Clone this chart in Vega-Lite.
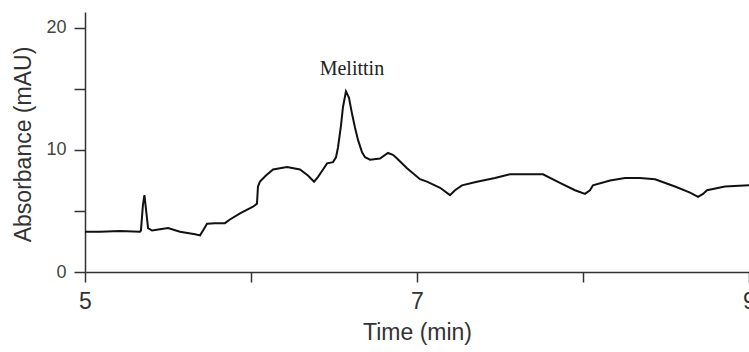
{
  "$schema": "https://vega.github.io/schema/vega-lite/v6.json",
  "autosize": "none",
  "padding": {"left": 85, "top": 12, "right": 0, "bottom": 80},
  "width": 664,
  "height": 260,
  "background": "white",
  "config": {"view": {"stroke": null}, "axis": {"grid": false}},
  "datasets": {
    "trace": [
      {"t": 5.000, "a": 3.3}, {"t": 5.090, "a": 3.3}, {"t": 5.211, "a": 3.35}, {"t": 5.331, "a": 3.3},
      {"t": 5.337, "a": 3.4}, {"t": 5.349, "a": 5.5}, {"t": 5.358, "a": 6.3}, {"t": 5.367, "a": 5.2},
      {"t": 5.380, "a": 3.6}, {"t": 5.404, "a": 3.4}, {"t": 5.452, "a": 3.5}, {"t": 5.500, "a": 3.6},
      {"t": 5.572, "a": 3.3}, {"t": 5.663, "a": 3.1}, {"t": 5.693, "a": 3.0}, {"t": 5.711, "a": 3.4},
      {"t": 5.735, "a": 3.95}, {"t": 5.783, "a": 4.0}, {"t": 5.843, "a": 4.0}, {"t": 5.873, "a": 4.3},
      {"t": 5.934, "a": 4.8}, {"t": 6.012, "a": 5.35}, {"t": 6.036, "a": 5.6}, {"t": 6.042, "a": 7.0},
      {"t": 6.054, "a": 7.4}, {"t": 6.090, "a": 7.9}, {"t": 6.133, "a": 8.4}, {"t": 6.217, "a": 8.6},
      {"t": 6.295, "a": 8.4}, {"t": 6.343, "a": 7.9}, {"t": 6.380, "a": 7.4}, {"t": 6.404, "a": 7.8},
      {"t": 6.434, "a": 8.4}, {"t": 6.458, "a": 8.9}, {"t": 6.494, "a": 9.0}, {"t": 6.512, "a": 9.4},
      {"t": 6.524, "a": 10.2}, {"t": 6.542, "a": 12.0}, {"t": 6.554, "a": 13.5}, {"t": 6.572, "a": 14.8},
      {"t": 6.590, "a": 14.3}, {"t": 6.608, "a": 13.0}, {"t": 6.627, "a": 11.8}, {"t": 6.645, "a": 10.8},
      {"t": 6.669, "a": 9.8}, {"t": 6.687, "a": 9.4}, {"t": 6.717, "a": 9.2}, {"t": 6.777, "a": 9.3},
      {"t": 6.825, "a": 9.75}, {"t": 6.855, "a": 9.6}, {"t": 6.880, "a": 9.3}, {"t": 6.940, "a": 8.5},
      {"t": 7.018, "a": 7.6}, {"t": 7.060, "a": 7.4}, {"t": 7.139, "a": 6.9}, {"t": 7.199, "a": 6.3},
      {"t": 7.229, "a": 6.7}, {"t": 7.271, "a": 7.1}, {"t": 7.361, "a": 7.4}, {"t": 7.470, "a": 7.7},
      {"t": 7.560, "a": 8.0}, {"t": 7.651, "a": 8.0}, {"t": 7.759, "a": 8.0}, {"t": 7.861, "a": 7.3},
      {"t": 7.952, "a": 6.7}, {"t": 8.012, "a": 6.4}, {"t": 8.042, "a": 6.7}, {"t": 8.060, "a": 7.1},
      {"t": 8.163, "a": 7.5}, {"t": 8.253, "a": 7.7}, {"t": 8.343, "a": 7.7}, {"t": 8.434, "a": 7.6},
      {"t": 8.554, "a": 7.0}, {"t": 8.645, "a": 6.5}, {"t": 8.693, "a": 6.15}, {"t": 8.723, "a": 6.4},
      {"t": 8.747, "a": 6.7}, {"t": 8.855, "a": 7.0}, {"t": 9.000, "a": 7.1}
    ],
    "labels": [{"t": 6.608, "a": 16.6, "name": "Melittin"}]
  },
  "layer": [
    {
      "data": {"name": "trace"},
      "mark": {"type": "line", "color": "#111", "strokeWidth": 2, "clip": true},
      "encoding": {
        "x": {
          "field": "t", "type": "quantitative",
          "scale": {"domain": [5, 9], "nice": false, "zero": false},
          "axis": {
            "title": "Time (min)", "values": [5, 6, 7, 8, 9], "format": "d",
            "labelExpr": "datum.value % 2 == 1 ? datum.label : ''",
            "labelFont": "Liberation Sans", "labelFontSize": 23, "labelColor": "#333",
            "labelPadding": 8, "tickSize": 10, "tickColor": "#333", "tickWidth": 1.5,
            "domainColor": "#333", "domainWidth": 1.5,
            "titleFont": "Liberation Sans", "titleFontSize": 23, "titleFontWeight": "normal",
            "titleColor": "#333", "titlePadding": 8, "labelFlush": false, "labelOverlap": false
          }
        },
        "y": {
          "field": "a", "type": "quantitative",
          "scale": {"domain": [0, 21.3], "nice": false},
          "axis": {
            "title": "Absorbance (mAU)", "values": [0, 5, 10, 15, 20],
            "labelExpr": "datum.value % 10 == 0 ? datum.label : ''",
            "labelFont": "Liberation Sans", "labelFontSize": 18, "labelColor": "#444",
            "labelPadding": 8, "tickSize": 11, "tickColor": "#333", "tickWidth": 1.5,
            "domainColor": "#333", "domainWidth": 1.5,
            "titleFont": "Liberation Sans", "titleFontSize": 23, "titleFontWeight": "normal",
            "titleColor": "#333", "titlePadding": 10, "titleY": 132, "labelOverlap": false
          }
        }
      }
    },
    {
      "data": {"name": "labels"},
      "mark": {"type": "text", "font": "Liberation Serif", "fontSize": 20, "color": "#222", "baseline": "middle", "align": "center"},
      "encoding": {
        "x": {"field": "t", "type": "quantitative"},
        "y": {"field": "a", "type": "quantitative"},
        "text": {"field": "name"}
      }
    }
  ]
}
